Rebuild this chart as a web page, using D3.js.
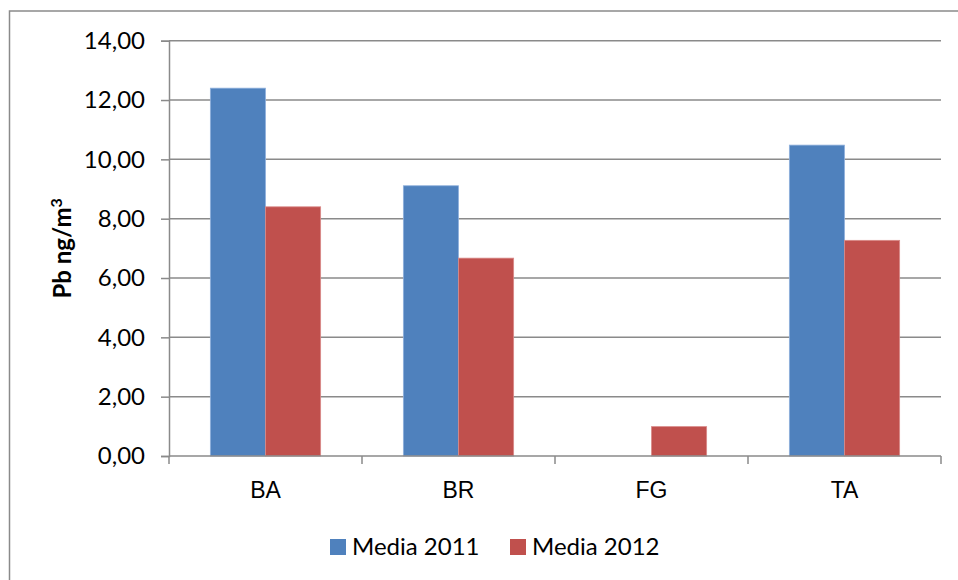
<!DOCTYPE html>
<html>
<head>
<meta charset="utf-8">
<script src="https://cdn.jsdelivr.net/npm/d3@7"></script>
<style>
  html, body { margin: 0; padding: 0; background: #fff; }
  svg { display: block; font-family: Lato, "Open Sans", sans-serif; }
</style>
</head>
<body>
<svg id="chart" width="958" height="580"></svg>
<script>
// Mean Pb concentrations per station (ng/m³)
const categories = ["BA", "BR", "FG", "TA"];
const media2011 = [12.40, 9.11, null, 10.48];
const media2012 = [8.40, 6.67, 0.99, 7.27];
const seriesNames = ["Media 2011", "Media 2012"];
const seriesColors = ["#4F81BD", "#C0504D"];
const yTicks = [0, 2, 4, 6, 8, 10, 12, 14];

const svg = d3.select("#chart");
const W = 958, H = 580;
const plot = { left: 169, right: 941, top: 40.7, bottom: 456 };

// outer chart frame
svg.append("rect")
  .attr("x", 9.5).attr("y", 11)
  .attr("width", W + 20).attr("height", H + 20)
  .attr("fill", "#fff").attr("stroke", "#8a8a8a").attr("stroke-width", 1.5);

const x = d3.scaleBand().domain(categories).range([plot.left, plot.right]).padding(0);
const step = x.bandwidth();
const gap = step * 0.75 / 3.5;
const xs = d3.scaleBand().domain(seriesNames).range([gap, step - gap]).padding(0);
const y = d3.scaleLinear().domain([0, 14]).range([plot.bottom, plot.top]);

const lineColor = "#8a8a8a";

// horizontal gridlines
svg.append("g").selectAll("line").data(yTicks.filter(t => t > 0)).join("line")
  .attr("x1", plot.left).attr("x2", plot.right)
  .attr("y1", d => y(d)).attr("y2", d => y(d))
  .attr("stroke", lineColor).attr("stroke-width", 1.5);

// y axis
const yAxis = d3.axisLeft(y).tickValues(yTicks).tickSize(8).tickPadding(16)
  .tickFormat(d => d3.format(".2f")(d).replace(".", ","));
const gy = svg.append("g").attr("transform", `translate(${plot.left},0)`).call(yAxis);
gy.select(".domain").attr("stroke", lineColor).attr("stroke-width", 1.5);
gy.selectAll(".tick line").attr("stroke", lineColor).attr("stroke-width", 1.5);
gy.selectAll(".tick text").attr("font-size", 24).attr("fill", "#000")
  .attr("font-family", "Lato, sans-serif");

// bars
const series = [media2011, media2012];
series.forEach((vals, si) => {
  svg.append("g").selectAll("rect")
    .data(categories.map((c, i) => ({ c, v: vals[i] })).filter(d => d.v != null))
    .join("rect")
    .attr("x", d => x(d.c) + xs(seriesNames[si]))
    .attr("y", d => y(d.v))
    .attr("width", xs.bandwidth())
    .attr("height", d => y(0) - y(d.v))
    .attr("fill", seriesColors[si])
    .attr("stroke", si === 0 ? "#8fb0dc" : "#d98a88")
    .attr("stroke-width", 0.8);
});

// x axis
const xAxis = d3.axisBottom(x).tickSize(0).tickPadding(0);
const gx = svg.append("g").attr("transform", `translate(0,${plot.bottom})`).call(xAxis);
gx.select(".domain").remove();
gx.selectAll(".tick text").remove();
gx.append("line").attr("x1", plot.left).attr("x2", plot.right)
  .attr("stroke", lineColor).attr("stroke-width", 1.5);
const boundaries = [plot.left].concat(categories.map(c => x(c) + step));
gx.selectAll(".bound").data(boundaries).join("line").attr("class", "bound")
  .attr("x1", d => d).attr("x2", d => d).attr("y1", 0).attr("y2", 8)
  .attr("stroke", lineColor).attr("stroke-width", 1.5);
gx.selectAll(".cat").data(categories).join("text").attr("class", "cat")
  .attr("x", d => x(d) + step / 2).attr("y", 42)
  .attr("text-anchor", "middle").attr("font-size", 23).attr("fill", "#000")
  .text(d => d);

// y axis title
const yt = svg.append("text")
  .attr("transform", `translate(71,${(plot.top + plot.bottom) / 2}) rotate(-90)`)
  .attr("text-anchor", "middle").attr("font-size", 24).attr("font-weight", "bold")
  .attr("fill", "#000");
yt.append("tspan").text("Pb ng/m");
yt.append("tspan").attr("font-size", 16).attr("dy", -9).text("3");

// legend
const legendX = [330, 510];
const legend = svg.append("g").selectAll("g").data(seriesNames).join("g")
  .attr("transform", (d, i) => `translate(${legendX[i]},539)`);
legend.append("rect").attr("width", 16).attr("height", 16)
  .attr("fill", (d, i) => seriesColors[i]);
legend.append("text").attr("x", 22).attr("y", 15.5)
  .attr("font-size", 24).attr("fill", "#000").text(d => d);
</script>
</body>
</html>
